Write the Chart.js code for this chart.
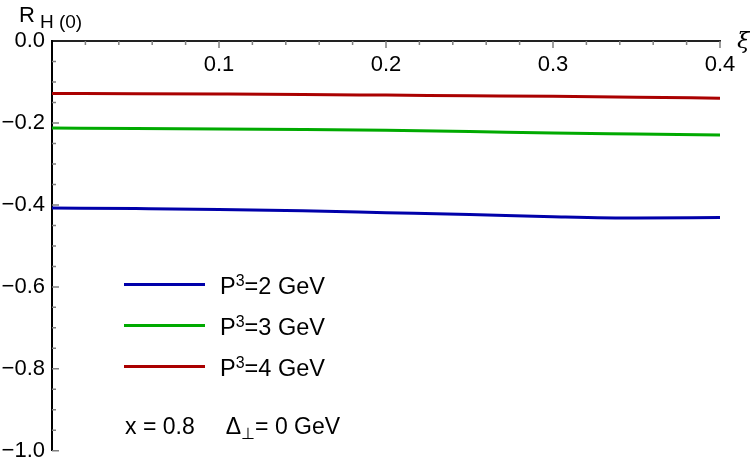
<!DOCTYPE html>
<html>
<head>
<meta charset="utf-8">
<script src="https://cdn.jsdelivr.net/npm/chart.js@4.4.1/dist/chart.umd.min.js"></script>
<style>
  body { margin: 0; background: #fff; }
  #wrap { position: relative; width: 750px; height: 471px; font-family: "Liberation Sans", Arial, sans-serif; color: #000; }
  #chart { position: absolute; left: 0; top: 0; }
  .txt { position: absolute; white-space: nowrap; line-height: 1; }
  .swatch { position: absolute; height: 3px; width: 81px; }
  sup { font-size: 0.68em; vertical-align: 0; position: relative; top: -0.5em; }
  sub { font-size: 0.7em; vertical-align: 0; position: relative; top: 0.3em; }
</style>
</head>
<body>
<div id="wrap">
  <canvas id="chart" width="750" height="471"></canvas>

  <div class="txt" style="left:19px; top:4px; font-size:22px;">R<span style="font-size:19px; position:relative; top:6px; margin-left:5px;">H (0)</span></div>
  <div class="txt" style="left:737px; top:29px; font-size:23px; font-style:italic; font-family:'DejaVu Serif', serif;">ξ</div>

  <div class="swatch" style="left:124px; top:283px; background:#0000aa;"></div>
  <div class="txt" style="left:220px; top:275px; font-size:23.5px;">P<sup>3</sup>=2 GeV</div>
  <div class="swatch" style="left:124px; top:324px; background:#00aa00;"></div>
  <div class="txt" style="left:220px; top:316px; font-size:23.5px;">P<sup>3</sup>=3 GeV</div>
  <div class="swatch" style="left:124px; top:365px; background:#aa0000;"></div>
  <div class="txt" style="left:220px; top:357px; font-size:23.5px;">P<sup>3</sup>=4 GeV</div>

  <div class="txt" style="left:125px; top:415px; font-size:23px;">x = 0.8<span style="display:inline-block; width:31px;"></span>Δ<sub>⊥</sub>= 0 GeV</div>
</div>

<script>
// xi sample points and R_H(0) values
const xiValues = [0, 0.05, 0.1, 0.15, 0.2, 0.25, 0.3, 0.35, 0.4];
const rP2 = [-0.4075, -0.409, -0.411, -0.4145, -0.419, -0.4235, -0.429, -0.4322, -0.4307];
const rP3 = [-0.2126, -0.2133, -0.2145, -0.216, -0.218, -0.221, -0.2245, -0.227, -0.2295];
const rP4 = [-0.128, -0.1287, -0.1295, -0.1305, -0.132, -0.1335, -0.135, -0.137, -0.1395];
const seriesNames = ['P3=2 GeV', 'P3=3 GeV', 'P3=4 GeV'];
const seriesColors = ['#0000aa', '#00aa00', '#aa0000'];

function toPoints(vals) {
    return vals.map((v, i) => ({ x: xiValues[i], y: v }));
}

function isMultiple(v, step) {
    const r = v / step;
    return Math.abs(r - Math.round(r)) < 1e-6;
}

// Mathematica style inward tick marks, minor and major
const innerTicks = {
    id: 'innerTicks',
    afterDatasetsDraw(chart) {
        const ctx = chart.ctx;
        const xs = chart.scales.x;
        const ys = chart.scales.y;
        const x0 = xs.getPixelForValue(0);
        const y0 = ys.getPixelForValue(0);
        ctx.save();
        ctx.strokeStyle = '#808080';
        ctx.lineWidth = 1.5;
        ctx.beginPath();
        xs.ticks.forEach(t => {
            if (Math.abs(t.value) < 1e-9) return;
            const px = xs.getPixelForValue(t.value);
            const len = isMultiple(t.value, 0.1) ? 7 : 4;
            ctx.moveTo(px, y0);
            ctx.lineTo(px, y0 + len);
        });
        ys.ticks.forEach(t => {
            if (Math.abs(t.value) < 1e-9) return;
            const py = ys.getPixelForValue(t.value);
            const len = isMultiple(t.value, 0.2) ? 7 : 4;
            ctx.moveTo(x0, py);
            ctx.lineTo(x0 + len, py);
        });
        ctx.stroke();
        ctx.restore();
    }
};

const ctx = document.getElementById('chart').getContext('2d');
new Chart(ctx, {
    type: 'line',
    data: {
        datasets: [rP2, rP3, rP4].map((vals, i) => ({
            label: seriesNames[i],
            data: toPoints(vals),
            borderColor: seriesColors[i],
            borderWidth: 3,
            pointRadius: 0,
            cubicInterpolationMode: 'monotone',
            fill: false
        }))
    },
    options: {
        responsive: false,
        animation: false,
        layout: { padding: { top: 41, right: 30, bottom: 16, left: 0 } },
        plugins: { legend: { display: false }, tooltip: { enabled: false } },
        scales: {
            x: {
                type: 'linear',
                position: { y: 0 },
                min: 0,
                max: 0.4,
                grid: { drawOnChartArea: false, drawTicks: false },
                border: { color: '#222', width: 2 },
                ticks: {
                    stepSize: 0.02,
                    autoSkip: false,
                    maxRotation: 0,
                    padding: 11,
                    color: '#000',
                    font: { family: '"Liberation Sans", Arial, sans-serif', size: 22 },
                    callback: v => (v > 1e-9 && isMultiple(v, 0.1)) ? v.toFixed(1) : ''
                }
            },
            y: {
                type: 'linear',
                position: 'left',
                min: -1,
                max: 0,
                afterFit: s => { s.width = 52; },
                grid: { drawOnChartArea: false, drawTicks: false },
                border: { color: '#000', width: 2 },
                ticks: {
                    stepSize: 0.05,
                    autoSkip: false,
                    padding: 7,
                    color: '#000',
                    font: { family: '"Liberation Sans", Arial, sans-serif', size: 22 },
                    callback: v => isMultiple(v, 0.2) ? (v < -1e-9 ? '\u2212' + Math.abs(v).toFixed(1) : '0.0') : ''
                }
            }
        }
    },
    plugins: [innerTicks]
});
</script>
</body>
</html>
